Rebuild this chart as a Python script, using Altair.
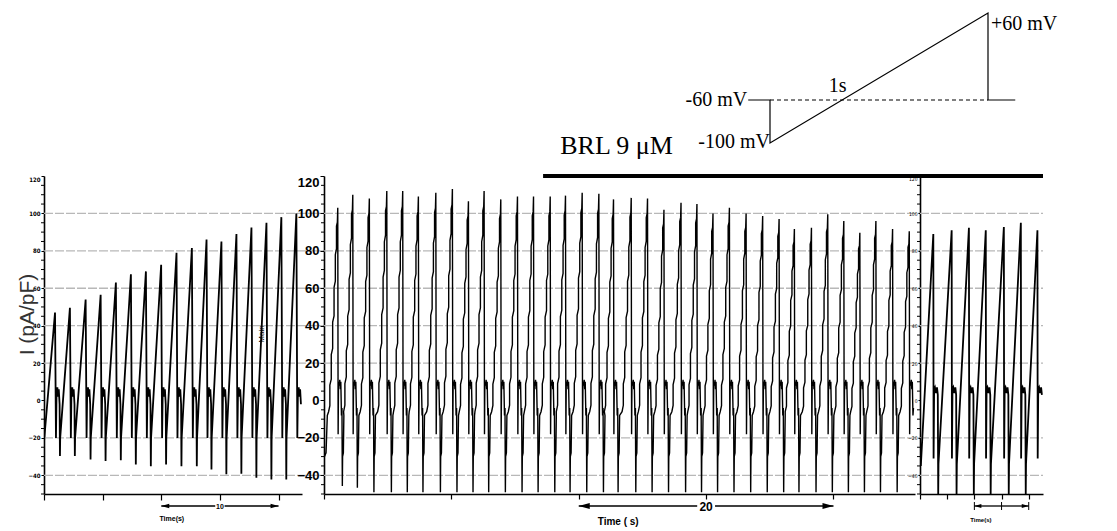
import altair as alt
import pandas as pd

# ---------------- values ----------------
Y_DOMAIN = [-50, 120]
grid_values = [100, 80, 60, 40, 20, -20, -40]
label_values = [-40, -20, 0, 20, 40, 60, 80, 100, 120]
minor_values = [-50, -45, -35, -30, -25, -15, -10, -5, 5, 10, 15, 25, 30, 35,
                45, 50, 55, 65, 70, 75, 85, 90, 95, 105, 110, 115]

# Panel 1 (control)
p1_peak_time = [0.94, 2.21, 3.55, 4.83, 6.13, 7.41, 8.69, 9.99, 11.30, 12.61,
                13.86, 15.13, 16.41, 17.69, 18.97, 20.24, 21.52]
p1_peak = [47, 49.5, 54, 56.5, 63, 67.5, 69, 72.5, 79, 81.5, 86, 85, 89, 92.5,
           95, 98, 100]
p1_spike = [-29.7, -29.7, -31.5, -32.4, -32, -34.2, -35.1, -34.2, -35.1, -35.1,
            -36.9, -39.5, -39.2, -41.3, -42.2, -42.2]
p1_start = [(0.0, -22)]
p1_post = [(0.08, -20), (0.13, 4), (0.20, 7), (0.26, 2), (0.32, 6), (0.39, -2)]
p1_after_spike = [(0.44, -20)]

# Panel 2
p2_peak_time = [1.08, 2.26, 3.56, 4.93, 6.18, 7.41, 8.78, 10.08, 11.34, 12.57,
                13.88, 15.19, 16.45, 17.76, 18.96, 20.27, 21.58, 22.73, 24.12,
                25.40, 26.69, 28.03, 29.28, 30.54, 31.83, 33.14, 34.44, 35.73,
                36.93, 38.27, 39.55, 40.81, 42.07, 43.33, 44.64, 45.95]
p2_peak = [103, 110, 108, 112, 112, 109, 111, 113, 106.5, 112, 107.5, 109, 109,
           109, 109.5, 111, 110.5, 107.5, 108.3, 108, 102, 105.7, 105, 100, 103,
           100, 98.6, 97, 91.6, 92.3, 99.5, 95.9, 89.6, 95.9, 91.6, 90.5]
p2_spike = [-45.7, -46.6, -49, -49, -49, -49, -49, -49, -49, -49, -49, -49,
            -49, -49, -49, -49, -49, -49, -49, -49, -49, -49, -49, -49, -49,
            -49, -49, -49, -49, -49, -49, -49, -49, -49, -49]
p2_start = [(0.0, -14), (0.04, -30), (0.16, -28), (0.26, -8)]
p2_post = [(0.03, -18), (0.06, 10), (0.12, 8), (0.16, 11), (0.20, 6),
           (0.24, 10), (0.29, -8), (0.33, -4)]
p2_after_spike = [(0.38, -30), (0.44, -28), (0.48, -8)]
p2_stair_base = -6
p2_stair = [(-0.72, 0.00), (-0.62, 0.03), (-0.62, 0.13), (-0.51, 0.16),
            (-0.51, 0.28), (-0.40, 0.31), (-0.40, 0.44), (-0.29, 0.47),
            (-0.29, 0.61), (-0.19, 0.64), (-0.19, 0.77), (-0.10, 0.80),
            (-0.10, 0.91), (-0.03, 0.93), (0.0, 1.0)]

# Panel 3 (BRL 9 uM, later)
p3_peak_time = [0.98, 2.33, 3.60, 4.84, 6.17, 7.42, 8.64]
p3_peak = [89, 91, 92.3, 91, 92.7, 95, 91]
p3_spike = [-50, -50, -50, -50, -50, -50]
p3_start = [(0.0, -20), (0.06, -35)]
p3_post = [(0.02, -31), (0.06, 6), (0.12, 7), (0.20, 4), (0.27, 7), (0.33, 3)]
p3_after_spike = [(0.38, -34)]

SPIKE_DT = {1: 0.42, 2: 0.36, 3: 0.36}

# drug application (s, panel time)
brl_p2 = (17.2, 46.8)
brl_p3 = (0.0, 9.05)

# voltage protocol (s, mV)
proto_t = [-0.1, 0.0, 0.0, 1.0, 1.0, 1.125]
proto_v = [-60, -60, -100, 60, -60, -60]


def build_trace(start, peak_time, peak_value, post, spike_dt, spike_value,
                after_spike, t_end, stair=None, stair_base=0):
    pts = list(start)
    for k, (tp, pv) in enumerate(zip(peak_time, peak_value)):
        if stair is None:
            pts.append((tp, pv))
        else:
            for dt, f in stair:
                pts.append((tp + dt, stair_base + f * (pv - stair_base)))
        for dt, v in post:
            pts.append((tp + dt, v))
        if k < len(spike_value):
            pts.append((tp + spike_dt, spike_value[k]))
            for dt, v in after_spike:
                pts.append((tp + dt, v))
    pts = [p for p in pts if p[0] <= t_end]
    return pd.DataFrame({"t": [p[0] for p in pts], "v": [p[1] for p in pts],
                         "i": list(range(len(pts)))})


def make_panel(trace, width, x_domain, x_range, x_ticks, y_axis, stroke_w,
               grid_end, arrow, tick_size, time_label, brl=None, extra=None):
    xs = alt.Scale(domain=x_domain, range=x_range, nice=False, zero=False) \
        if x_range else alt.Scale(domain=x_domain, nice=False, zero=False)
    ys = alt.Scale(domain=Y_DOMAIN, nice=False, zero=False)
    x_axis = alt.Axis(values=x_ticks, labels=False, tickSize=tick_size,
                      tickColor="black", domainColor="black", domainWidth=1.6,
                      tickWidth=1.2, grid=False, title=None)

    def X(f):
        return alt.X(f + ":Q", scale=xs, axis=x_axis)

    def Y(f):
        return alt.Y(f + ":Q", scale=ys, axis=y_axis)

    layers = []
    gdf = pd.DataFrame({"g": grid_values, "x0": [0.0] * len(grid_values),
                        "x1": [grid_end] * len(grid_values)})
    layers.append(alt.Chart(gdf).mark_rule(color="#b8b8b8", strokeWidth=1.3,
                                           strokeDash=[9, 2])
                  .encode(x=X("x0"), x2="x1", y=Y("g")))
    mdf = pd.DataFrame({"m": minor_values})
    layers.append(alt.Chart(mdf).mark_rule(color="black", strokeWidth=1)
                  .encode(y=Y("m"), x=alt.value(0), x2=alt.value(-3)))
    layers.append(alt.Chart(trace).mark_line(color="black", strokeWidth=stroke_w,
                                             clip=True, strokeJoin="miter")
                  .encode(x=X("t"), y=Y("v"), order="i:Q"))
    if brl is not None:
        bdf = pd.DataFrame({"b0": [brl[0]], "b1": [brl[1]], "bv": [120]})
        layers.append(alt.Chart(bdf).mark_rule(color="black", strokeWidth=4)
                      .encode(x=X("b0"), x2="b1", y=Y("bv")))

    # time-scale arrow below the axis
    a0, a1, gap0, gap1, label, lab_size, head_size, bars = arrow
    seg = pd.DataFrame({"s0": [a0, gap1], "s1": [gap0, a1]})
    layers.append(alt.Chart(seg).mark_rule(color="black", strokeWidth=1.3)
                  .encode(x=X("s0"), x2="s1", y=alt.value(330)))
    left = pd.DataFrame({"h": [a0]})
    right = pd.DataFrame({"h": [a1]})
    layers.append(alt.Chart(left).mark_point(shape="M0,0 L2,-0.55 L2,0.55 Z",
                                             filled=True, color="black",
                                             size=head_size, opacity=1)
                  .encode(x=X("h"), y=alt.value(330)))
    layers.append(alt.Chart(right).mark_point(shape="M0,0 L-2,-0.55 L-2,0.55 Z",
                                              filled=True, color="black",
                                              size=head_size, opacity=1)
                  .encode(x=X("h"), y=alt.value(330)))
    if label:
        ldf = pd.DataFrame({"lx": [(a0 + a1) / 2], "txt": [label]})
        layers.append(alt.Chart(ldf).mark_text(font="Liberation Sans",
                                               fontWeight="bold",
                                               fontSize=lab_size,
                                               baseline="middle")
                      .encode(x=X("lx"), y=alt.value(331), text="txt:N"))
    if bars:
        bar_df = pd.DataFrame({"bx": bars})
        layers.append(alt.Chart(bar_df).mark_rule(color="black", strokeWidth=1)
                      .encode(x=X("bx"), y=alt.value(326), y2=alt.value(334)))

    tx, txt, tsize, ty = time_label
    tdf = pd.DataFrame({"tx": [tx], "txt": [txt]})
    layers.append(alt.Chart(tdf).mark_text(font="Liberation Sans",
                                           fontWeight="bold", fontSize=tsize,
                                           baseline="middle")
                  .encode(x=X("tx"), y=alt.value(ty), text="txt:N"))
    if extra:
        for e in extra:
            layers.append(e(X, Y))
    return alt.layer(*layers).properties(width=width, height=318)


# ---------------- traces ----------------
tr1 = build_trace(p1_start, p1_peak_time, p1_peak, p1_post, SPIKE_DT[1],
                  p1_spike, p1_after_spike, 22.0)
tr2 = build_trace(p2_start, p2_peak_time, p2_peak, p2_post, SPIKE_DT[2],
                  p2_spike, p2_after_spike, 46.4, stair=p2_stair,
                  stair_base=p2_stair_base)
tr3 = build_trace(p3_start, p3_peak_time, p3_peak, p3_post, SPIKE_DT[3],
                  p3_spike, p3_after_spike, 9.05)

y_axis1 = alt.Axis(values=label_values, labelFont="DejaVu Sans Condensed",
                   labelFontWeight="bold", labelFontSize=6, labelColor="black",
                   labelPadding=1, labelFlush=True, tickSize=3,
                   tickColor="black", domainColor="black", domainWidth=1.6,
                   grid=False, title="I (pA/pF)", titleFont="Liberation Sans",
                   titleFontSize=21, titleFontWeight="normal",
                   titleColor="#333333", titleAngle=270, titleX=-17,
                   titleY=138, titleAlign="center", titleBaseline="middle")
y_axis2 = alt.Axis(values=label_values, labelFont="Liberation Sans",
                   labelFontWeight="bold", labelFontSize=13, labelColor="black",
                   labelPadding=1, labelFlush=True, tickSize=4,
                   tickColor="black", domainColor="black", domainWidth=1.6,
                   grid=False, title=None)
y_axis3 = alt.Axis(values=label_values, labelFont="DejaVu Sans Condensed",
                   labelFontSize=5, labelColor="black", labelPadding=1,
                   labelFlush=True, tickSize=2, tickColor="black",
                   domainColor="black", domainWidth=1.6, grid=False,
                   title=None)


def main_label(X, Y):
    d = pd.DataFrame({"mx": [18.57], "my": [35.5], "txt": ["Main"]})
    return alt.Chart(d).mark_text(font="Liberation Sans", fontSize=8,
                                  angle=270, baseline="middle") \
        .encode(x=X("mx"), y=Y("my"), text="txt:N")


def brl_label(X, Y):
    d = pd.DataFrame({"bx": [18.55], "txt": ["BRL 9 \u03bcM"]})
    return alt.Chart(d).mark_text(font="Liberation Serif", fontSize=26,
                                  align="left", baseline="alphabetic") \
        .encode(x=X("bx"), y=alt.value(-22), text="txt:N")


p1 = make_panel(tr1, 275, [0, 22], [0, 258], [0, 5, 10, 15, 20], y_axis1, 1.8,
                23.9, (10, 20, 14.6, 15.4, "10", 7, 64, None), 6,
                (10.9, "Time(s)", 7, 343), extra=[main_label])
p2 = make_panel(tr2, 591, [0, 46.4], None, [0, 10, 20, 30, 40], y_axis2, 1.4,
                46.8, (20, 40, 29.3, 30.7, "20", 12, 121, None), 5,
                (23.1, "Time ( s)", 10, 346), brl=brl_p2, extra=[brl_label])
p3 = make_panel(tr3, 123, [0, 9.05], None, [0, 2, 4, 6, 8], y_axis3, 1.8,
                9.05, (4, 8, 6, 6, None, 7, 49, [4, 6, 8]), 5,
                (4.48, "Time(s)", 6, 344), brl=brl_p3)

# ---------------- voltage protocol ----------------
proto = pd.DataFrame({"t": proto_t, "v": proto_v, "i": list(range(len(proto_t)))})
pxs = alt.Scale(domain=[0, 1], range=[726, 944], nice=False, zero=False)
pys = alt.Scale(domain=[-100, -60, 60], range=[130, 87, 0], nice=False,
                zero=False)
PX = alt.X("t:Q", scale=pxs, axis=None)
PY = alt.Y("v:Q", scale=pys, axis=None)

proto_line = alt.Chart(proto).mark_line(color="black", strokeWidth=1.2) \
    .encode(x=PX, y=PY, order="i:Q")
hold_ref = alt.Chart(pd.DataFrame({"t": [0.0], "t1": [1.0], "v": [-60]})) \
    .mark_rule(color="black", strokeWidth=1.1, strokeDash=[4, 3]) \
    .encode(x=PX, x2="t1", y=PY)


def ptext(t, v, txt, align, dx, dy):
    d = pd.DataFrame({"t": [t], "v": [v], "txt": [txt]})
    return alt.Chart(d).mark_text(font="Liberation Serif", fontSize=20,
                                  align=align, baseline="middle", dx=dx, dy=dy,
                                  color="black") \
        .encode(x=PX, y=PY, text="txt:N")


top = alt.layer(
    proto_line, hold_ref,
    ptext(-0.1, -60, "-60 mV", "right", -1, 0),
    ptext(0.0, -100, "-100 mV", "right", 0, -1),
    ptext(1.0, 60, "+60 mV", "left", 3, 11),
    ptext(0.31, -60, "1s", "center", 0, -14),
).properties(width=999, height=150)

bottom = alt.hconcat(p1, p2, p3, spacing=5, bounds="flush")
chart = alt.vconcat(top, bottom, spacing=13, bounds="flush").properties(
    padding={"left": 8, "top": 2, "right": 5, "bottom": 5}
).configure_view(stroke=None)

chart.save("out.html", embed_options={"renderer": "svg", "actions": False})
